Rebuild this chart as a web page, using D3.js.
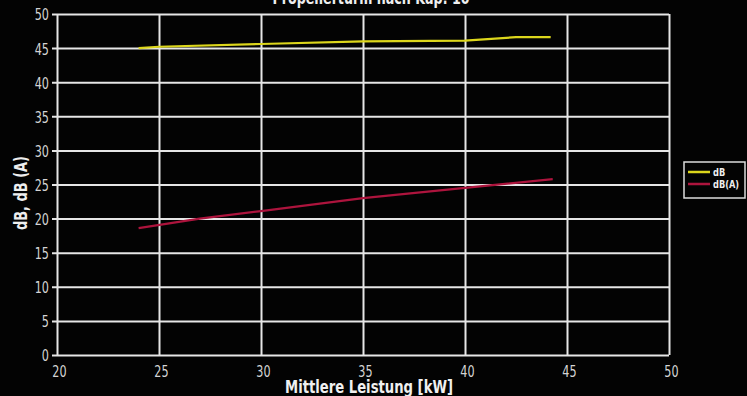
<!DOCTYPE html>
<html><head><meta charset="utf-8">
<script src="https://cdn.jsdelivr.net/npm/d3@7"></script>
<style>
html,body{margin:0;padding:0;background:#030303;}
svg{display:block;}
text{font-family:"DejaVu Sans","Liberation Sans",sans-serif;}
</style></head><body>
<svg id="c" width="747" height="396"></svg>
<script>
const title = "Propellerturm nach Kap. 10";
const xLabel = "Mittlere Leistung [kW]";
const yLabel = "dB, dB (A)";
const seriesNames = ["dB", "dB(A)"];
const xTicks = [20, 25, 30, 35, 40, 45, 50];
const yTicks = [0, 5, 10, 15, 20, 25, 30, 35, 40, 45, 50];
const dbX = [24, 25, 30, 35, 40, 42.5, 44.2];
const dbY = [45.0, 45.2, 45.6, 46.0, 46.1, 46.6, 46.6];
const dbaX = [24, 27, 30, 35, 40, 44.3];
const dbaY = [18.6, 20.0, 21.1, 23.0, 24.5, 25.8];

const colors = ["#dcd61c", "#ad143d"];
const svg = d3.select("#c");
const L = 57, R = 669, T = 14, B = 355;
const x = d3.scaleLinear().domain([20, 50]).range([L, R]);
const y = d3.scaleLinear().domain([0, 50]).range([B, T]);

function squeeze(sel, f) {
  sel.each(function () {
    const w = this.getComputedTextLength();
    d3.select(this).attr("textLength", w * f).attr("lengthAdjust", "spacingAndGlyphs");
  });
}
function fitTo(sel, w) {
  sel.attr("textLength", w).attr("lengthAdjust", "spacingAndGlyphs");
}

const grid = "#e6e6e6";
const gy = svg.append("g").attr("transform", `translate(${L},0)`)
  .call(d3.axisLeft(y).tickValues(yTicks).tickSizeInner(-(R - L)).tickSizeOuter(0).tickPadding(10));
gy.select(".domain").remove();
gy.selectAll(".tick line").attr("x1", -5).attr("stroke", grid).attr("stroke-width", 2);
gy.selectAll(".tick text").attr("fill", "#d4d4d4").attr("font-size", 16.5).attr("x", -8).attr("dy", "0.36em");
squeeze(gy.selectAll(".tick text"), 0.68);

const gx = svg.append("g").attr("transform", `translate(0,${B})`)
  .call(d3.axisBottom(x).tickValues(xTicks).tickSizeInner(-(B - T)).tickSizeOuter(0).tickPadding(10));
gx.select(".domain").remove();
gx.selectAll(".tick line").attr("stroke", grid).attr("stroke-width", 2);
gx.selectAll(".tick text").attr("fill", "#d4d4d4").attr("font-size", 16).attr("y", 22).attr("dy", 0).attr("dx", 2);
squeeze(gx.selectAll(".tick text"), 0.7);

const line = d3.line().x(d => x(d[0])).y(d => y(d[1]));
const s1 = dbX.map((v, i) => [v, dbY[i]]);
const s2 = dbaX.map((v, i) => [v, dbaY[i]]);
[s1, s2].forEach((s, i) => {
  svg.append("path").datum(s).attr("d", line).attr("fill", "none")
    .attr("stroke", colors[i]).attr("stroke-width", 2.2);
});

// titles
fitTo(svg.append("text").attr("x", 371).attr("y", 4).attr("text-anchor", "middle")
  .attr("fill", "#eeeeee").attr("font-size", 17).attr("font-weight", "bold").text(title), 197);
fitTo(svg.append("text").attr("x", 369).attr("y", 393).attr("text-anchor", "middle")
  .attr("fill", "#f0f0f0").attr("font-size", 18.5).attr("font-weight", "bold").text(xLabel), 168);
fitTo(svg.append("text").attr("transform", "translate(27,193) rotate(-90)").attr("text-anchor", "middle")
  .attr("fill", "#eeeeee").attr("font-size", 17).attr("font-weight", "bold").text(yLabel), 74);

// legend
const lg = svg.append("g");
lg.append("rect").attr("x", 684).attr("y", 162).attr("width", 61).attr("height", 36)
  .attr("fill", "none").attr("stroke", "#dddddd").attr("stroke-width", 1.5);
seriesNames.forEach((n, i) => {
  const yy = 172 + i * 12;
  lg.append("line").attr("x1", 688).attr("x2", 710).attr("y1", yy).attr("y2", yy)
    .attr("stroke", colors[i]).attr("stroke-width", 2.5);
  const t = lg.append("text").attr("x", 713).attr("y", yy + 4).attr("fill", "#eeeeee")
    .attr("font-size", 11).attr("font-weight", "bold").text(n);
  squeeze(t, 0.75);
});
</script></body></html>
